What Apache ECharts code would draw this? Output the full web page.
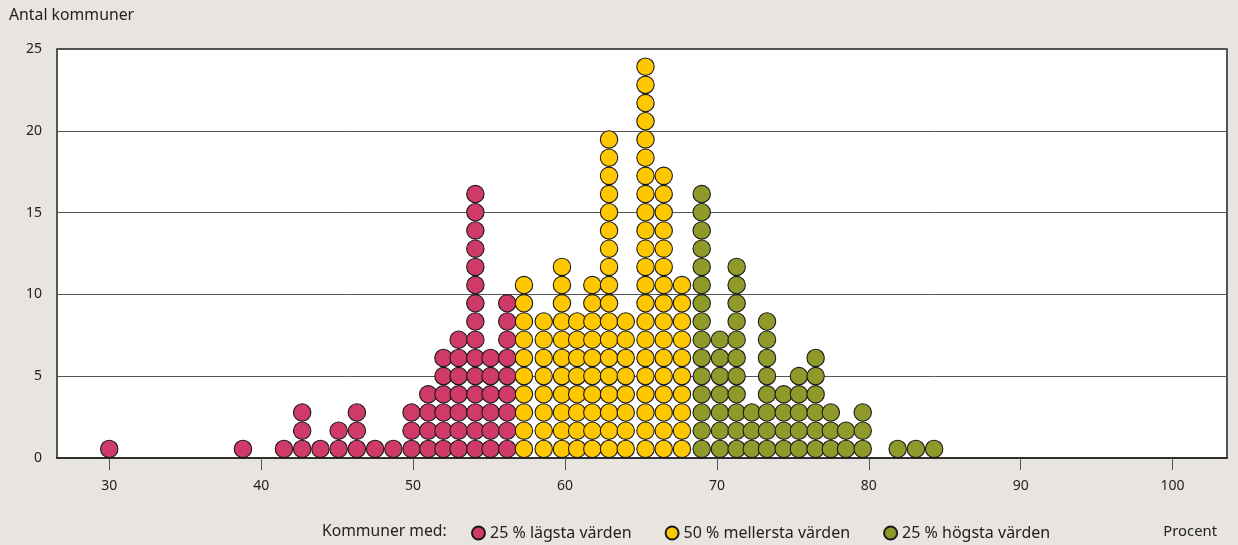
<!DOCTYPE html>
<html>
<head>
<meta charset="utf-8">
<script src="https://cdn.jsdelivr.net/npm/echarts@6/dist/echarts.min.js"></script>
<style>
  html, body { margin: 0; padding: 0; background: #e8e4df; }
  #chart { width: 1238px; height: 545px; }
</style>
</head>
<body>
<div id="chart"></div>
<script>
// procent-värden (x) och antal kommuner per kolumn
const lowX = [30.0, 38.8, 41.5, 42.7, 43.9, 45.1, 46.3, 47.5, 48.7, 49.9, 51.0, 52.0, 53.0, 54.1, 55.1, 56.2]
const lowN = [1, 1, 1, 3, 1, 2, 3, 1, 1, 3, 4, 6, 7, 15, 6, 9]
const midX = [57.3, 58.6, 59.8, 60.8, 61.8, 62.9, 64.0, 65.3, 66.5, 67.7]
const midN = [10, 8, 11, 8, 10, 18, 8, 22, 16, 10]
const highX = [69.0, 70.2, 71.3, 72.3, 73.3, 74.4, 75.4, 76.5, 77.5, 78.5, 79.6, 81.9, 83.1, 84.3]
const highN = [15, 7, 11, 3, 8, 4, 5, 6, 3, 2, 3, 1, 1, 1]

const xTicks = [30, 40, 50, 60, 70, 80, 90, 100]
const yTicks = [0, 5, 10, 15, 20, 25]
const names = ['25 % lägsta värden', '50 % mellersta värden', '25 % högsta värden']
const colors = ['#cf3a68', '#ffc700', '#8f9a2b']

// en prick per kommun, staplade i kolumner
function dots(xs, ns) {
  const out = []
  xs.forEach((x, i) => {
    for (let k = 0; k < ns[i]; k++) out.push([x, k + 0.5])
  })
  return out
}

const font = '"Noto Sans", sans-serif'
const chart = echarts.init(document.getElementById('chart'))
const option = {
  backgroundColor: '#e8e4df',
  textStyle: { fontFamily: font },
  animation: false,
  grid: {
    left: 57, right: 11, top: 49, bottom: 87,
    show: true, backgroundColor: '#fff', borderColor: '#222', borderWidth: 1.5
  },
  xAxis: {
    type: 'value',
    min: 26.56,
    max: 103.58,
    splitLine: { show: false },
    axisLine: { show: true, onZero: false, lineStyle: { color: '#222', width: 1.5 } },
    axisTick: { show: true, customValues: xTicks, length: 12, lineStyle: { color: '#555' } },
    axisLabel: { customValues: xTicks, margin: 21, color: '#222', fontSize: 14, fontFamily: font }
  },
  yAxis: [
    {
      type: 'value',
      min: 0,
      max: 25,
      interval: 5,
      axisLine: { show: false },
      axisTick: { show: false },
      splitLine: { lineStyle: { color: '#555', width: 1 } },
      axisLabel: { margin: 15, color: '#222', fontSize: 14, fontFamily: font,
        formatter: v => yTicks.includes(v) ? String(v) : '' }
    },
    {
      // prickarnas egen skala (en enhet = en prick)
      type: 'value', min: 0, max: 22.47, show: false
    }
  ],
  legend: {
    data: names,
    left: 466,
    top: 520,
    icon: 'circle',
    itemWidth: 13,
    itemHeight: 13,
    itemGap: 33,
    textStyle: { fontSize: 16, color: '#222', fontFamily: font }
  },
  graphic: [
    { type: 'text', x: 9, y: 15, style: { text: 'Antal kommuner', fontSize: 15.8, fill: '#222', fontFamily: font, verticalAlign: 'middle' } },
    { type: 'text', x: 322, y: 532, style: { text: 'Kommuner med:', fontSize: 15.7, fill: '#222', fontFamily: font, verticalAlign: 'middle' } },
    { type: 'text', x: 1217, y: 532, style: { text: 'Procent', fontSize: 14.8, fill: '#222', fontFamily: font, align: 'right', verticalAlign: 'middle' } }
  ],
  series: [[lowX, lowN], [midX, midN], [highX, highN]].map(([xs, ns], i) => ({
    name: names[i],
    type: 'scatter',
    yAxisIndex: 1,
    symbol: 'circle',
    symbolSize: 17.4,
    itemStyle: { color: colors[i], borderColor: '#1a1a1a', borderWidth: 1.1, opacity: 1 },
    emphasis: { disabled: true },
    data: dots(xs, ns)
  }))
}

option && chart.setOption(option)
</script>
</body>
</html>
